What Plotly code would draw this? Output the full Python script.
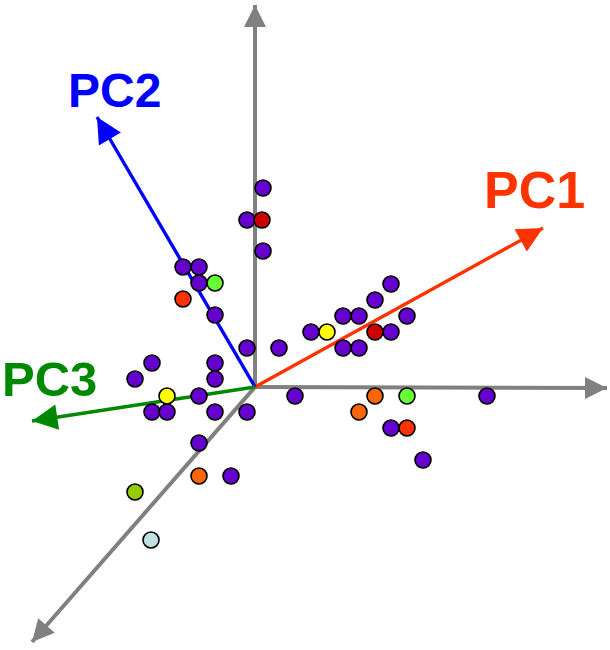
import plotly.graph_objects as go

# point positions, origin of the axes at (0, 0), y up
pt_x = [8, -8, 8, -72, -56, -56, -40,
        -8, 24, 56, 88, 104, 120, 136, 152, 136, 88, 104,
        -103, -120, -40, -40, -56, -103, -88, -40, -8, 40,
        -56, -24, 136, 168, 232,
        7, 120,
        -40, 152,
        -72, 152,
        72, -88,
        120, 104, -56,
        -120,
        -104]
pt_y = [199, 167, 136, 120, 120, 104, 72,
        39, 39, 55, 71, 71, 87, 103, 71, 55, 39, 39,
        24, 8, 24, 8, -9, -25, -25, -25, -25, -9,
        -56, -89, -41, -73, -9,
        167, 55,
        104, -9,
        88, -41,
        55, -9,
        -9, -25, -89,
        -105,
        -153]
pt_group = ['purple'] * 33 + ['darkred'] * 2 + ['lightgreen'] * 2 + ['redorange'] * 2 \
    + ['yellow'] * 2 + ['orange'] * 3 + ['olive'] + ['lightblue']

group_colors = {
    'purple': '#6600CC', 'darkred': '#CC0000', 'lightgreen': '#66FF33',
    'redorange': '#FF3300', 'yellow': '#FFFF00', 'orange': '#FF6600',
    'olive': '#99CC00', 'lightblue': '#C0E0E4',
}

# axes and principal component arrows (tips)
axis_tips = [(352, -1), (0, 382), (-223, -255)]
pc_names = ['PC1', 'PC2', 'PC3']
pc_tips = [(288, 159), (-158, 270), (-223, -34)]
pc_colors = ['#FF3300', '#0000FF', '#008800']
pc_label_pos = [(279, 197), (-141, 297), (-206, 8)]
pc_label_size = [52, 48, 49]

fig = go.Figure()

def arrow(fig, tip, color, width, size):
    # line as a trace (below the points), head as a short annotation
    fig.add_trace(go.Scatter(x=[0, tip[0]], y=[0, tip[1]], mode='lines',
                             line=dict(color=color, width=width),
                             hoverinfo='skip', showlegend=False))
    L = (tip[0] ** 2 + tip[1] ** 2) ** 0.5
    back = 12
    fig.add_annotation(x=tip[0], y=tip[1], ax=tip[0] - tip[0] / L * back,
                       ay=tip[1] - tip[1] / L * back, axref='x', ayref='y',
                       xref='x', yref='y', showarrow=True, arrowhead=2,
                       arrowsize=size, arrowwidth=width, arrowcolor=color,
                       standoff=0, startstandoff=0, text='')

for t in axis_tips:
    arrow(fig, t, '#808080', 4, 1.1)
for t, c in zip(pc_tips, pc_colors):
    arrow(fig, t, c, 3.4, 1.5)

for g, col in group_colors.items():
    xs = [x for x, gg in zip(pt_x, pt_group) if gg == g]
    ys = [y for y, gg in zip(pt_y, pt_group) if gg == g]
    fig.add_trace(go.Scatter(x=xs, y=ys, mode='markers', name=g,
                             marker=dict(size=16, color=col,
                                         line=dict(color='black', width=1.6)),
                             showlegend=False))

for name, pos, c, s in zip(pc_names, pc_label_pos, pc_colors, pc_label_size):
    fig.add_annotation(x=pos[0], y=pos[1], xref='x', yref='y', text='<b>%s</b>' % name,
                       showarrow=False, font=dict(family='Liberation Sans, Arial', size=s, color=c))

fig.update_layout(
    width=610, height=650, margin=dict(l=0, r=0, t=0, b=0),
    plot_bgcolor='white', paper_bgcolor='white',
    xaxis=dict(range=[-255, 355], visible=False),
    yaxis=dict(range=[-263, 387], visible=False),
)
fig.write_html('out.html', config={'displayModeBar': False},
               post_script="document.body.style.margin='0';")
